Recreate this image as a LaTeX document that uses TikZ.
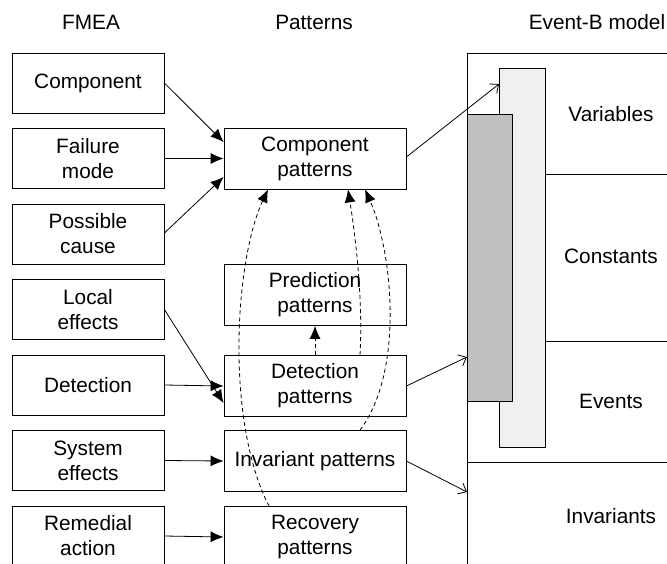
\documentclass[tikz,border=0pt]{standalone}
\usepackage{fontspec}
\setmainfont{Liberation Sans}
\usetikzlibrary{arrows.meta}
\begin{document}
\begin{tikzpicture}[x=1pt,y=-1pt,
  every node/.style={font=\fontsize{20.8}{25}\selectfont, align=center},
  fmeabox/.style={draw, line width=0.8pt, minimum width=152pt, minimum height=60pt, inner sep=0pt},
  patbox/.style={draw, line width=0.8pt, minimum width=182pt, minimum height=61pt, inner sep=0pt},
  feed/.style={line width=0.8pt, -{Latex[length=13pt,width=11pt]}},
  link/.style={line width=0.8pt, -{Straight Barb[length=7pt,width=12pt]}},
  dep/.style={line width=0.8pt, dash pattern=on 4pt off 3pt, -{Latex[length=13pt,width=11pt]}},
  heading/.style={font=\fontsize{20.8}{25}\selectfont}]
\useasboundingbox (0,0) rectangle (667,563);
\clip (0,0) rectangle (667,563);

% column headings
\node[heading] (hfmea) at (91,22) {FMEA};
\node[heading] (hpat) at (314,22) {Patterns};
\node[heading] (hevb) at (597,22) {Event-B model};

% Event-B model: outer frame, sections and the two overlapping bars
\draw[line width=0.8pt] (467,53) -- (700,53) (467,53) -- (467,600);
\draw[line width=0.8pt] (545,174) -- (700,174);
\draw[line width=0.8pt] (545,341) -- (700,341);
\draw[line width=0.8pt] (467,462) -- (700,462);
\draw[line width=0.8pt, fill={rgb,255:red,240;green,240;blue,240}] (499,68) rectangle (545,447);
\draw[line width=0.8pt, fill={rgb,255:red,192;green,192;blue,192}] (467,114) rectangle (512,401);
\node (vars) at (611,114) {Variables};
\node (consts) at (611,256) {Constants};
\node (events) at (611,401) {Events};
\node (invs) at (611,516) {Invariants};
\coordinate (varsin) at (499,84);
\coordinate (evin) at (467,357);
\coordinate (invin) at (467,492);

% FMEA column
\node[fmeabox] (comp) at (88,83) {Component};
\node[fmeabox] (fmode) at (88,158.5) {Failure\\mode};
\node[fmeabox] (cause) at (88,234) {Possible\\cause};
\node[fmeabox] (local) at (88,309.5) {Local\\effects};
\node[fmeabox] (detect) at (88,385) {Detection};
\node[fmeabox] (syseff) at (88,460.5) {System\\effects};
\node[fmeabox] (remed) at (88,536) {Remedial\\action};

% pattern column
\node[patbox] (cp) at (315,158.5) {Component\\patterns};
\node[patbox] (pp) at (315,295) {Prediction\\patterns};
\node[patbox] (dp) at (315,386) {Detection\\patterns};
\node[patbox] (ip) at (315,461) {Invariant patterns};
\node[patbox] (rp) at (315,537) {Recovery\\patterns};

% FMEA entries feeding the patterns
\draw[feed] (comp.east) -- ([yshift=16.5pt]cp.west);
\draw[feed] (fmode.east) -- (cp.west);
\draw[feed] ([yshift=1pt]cause.east) -- ([yshift=-18.5pt]cp.west);
\draw[feed] (local.east) -- ([yshift=-17pt]dp.west);
\draw[feed] (detect.east) -- (dp.west);
\draw[feed] (syseff.east) -- (ip.west);
\draw[feed] (remed.east) -- (rp.west);

% patterns mapped into the model
\draw[link] ([yshift=1.5pt]cp.east) -- (varsin);
\draw[link] (dp.east) -- (evin);
\draw[link] (ip.east) -- (invin);

% dependencies between patterns
\draw[dep] (dp.north) -- (pp.south);
\draw[dep] ([xshift=-46pt]rp.north) .. controls (225,420) and (235,260) .. ([xshift=-47pt]cp.south);
\draw[dep] ([xshift=45pt]dp.north) .. controls (363,300) and (356,240) .. ([xshift=33pt]cp.south);
\draw[dep] ([xshift=45pt]ip.north) .. controls (405,370) and (392,250) .. ([xshift=50pt]cp.south);
\end{tikzpicture}
\end{document}
